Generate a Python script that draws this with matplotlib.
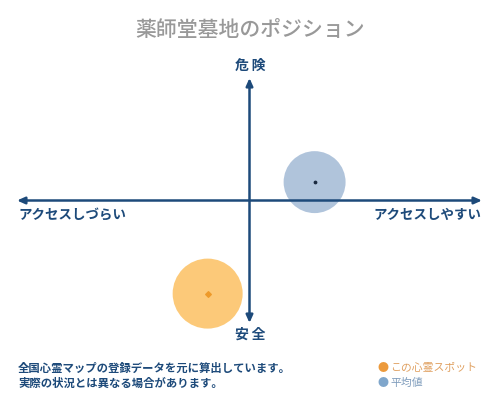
import matplotlib
matplotlib.use("Agg")
import matplotlib.pyplot as plt

plt.rcParams['font.family'] = ['Noto Sans CJK JP', 'DejaVu Sans']

title = "薬師堂墓地のポジション"
axis_top = "危険"
axis_bottom = "安全"
axis_left = "アクセスしづらい"
axis_right = "アクセスしやすい"
note_lines = ["全国心霊マップの登録データを元に算出しています。",
              "実際の状況とは異なる場合があります。"]
legend_labels = ["この心霊スポット", "平均値"]

# positions on the map (-1 .. 1), access on x, danger on y
spot_x, spot_y = -0.18, -0.76
avg_x, avg_y = 0.28, 0.15
spot_size = 2540
avg_size = 1990

navy = "#1d4a7a"
orange = "#fcc46a"
blue = "#a8bed8"

fig = plt.figure(figsize=(5, 4), dpi=100)
ax = fig.add_axes([17/500, 77/400, 465/500, 245/400])
ax.set_xlim(-1, 1)
ax.set_ylim(-1, 1)
ax.axis("off")

ax.scatter([avg_x], [avg_y], s=avg_size, color=blue, edgecolors="none", zorder=2, alpha=0.9, clip_on=False)
ax.scatter([avg_x], [avg_y], s=3, color="#1a2a40", zorder=4, clip_on=False)
ax.scatter([spot_x], [spot_y], s=spot_size, color=orange, edgecolors="none", zorder=2, alpha=0.9, clip_on=False)
ax.scatter([spot_x], [spot_y], s=8, color="#ee9a2a", marker="D", zorder=4, clip_on=False)

arrow = dict(arrowstyle="<|-|>,head_length=0.45,head_width=0.2", color=navy, lw=1.8, shrinkA=0, shrinkB=0)
ax.annotate("", xy=(1, 0), xytext=(-1, 0), arrowprops=arrow, zorder=3)
ax.annotate("", xy=(0, 1), xytext=(0, -1), arrowprops=arrow, zorder=3)

fig.text(0.5, 1 - 30/400, title, ha="center", va="center", fontsize=15, color="#999999", fontweight="medium")
fig.text(0.5, 1 - 66/400, "\u2009".join(axis_top), ha="center", va="center", fontsize=10, color=navy, fontweight="bold")
fig.text(0.5, 1 - 335/400, "\u2009".join(axis_bottom), ha="center", va="center", fontsize=10, color=navy, fontweight="bold")
fig.text(18/500, 1 - 215/400, axis_left, ha="left", va="center", fontsize=9.7, color=navy, fontweight="bold")
fig.text(481/500, 1 - 215/400, axis_right, ha="right", va="center", fontsize=9.7, color=navy, fontweight="bold")

fig.text(18/500, 1 - 368/400, note_lines[0], ha="left", va="center", fontsize=8.2, color=navy, fontweight="bold")
fig.text(18/500, 1 - 383/400, note_lines[1], ha="left", va="center", fontsize=8.2, color=navy, fontweight="bold")

fig.text(377/500, 1 - 368/400, "●", ha="left", va="center", fontsize=8, color="#ec9a3c")
fig.text(390/500, 1 - 368/400, legend_labels[0], ha="left", va="center", fontsize=7.8, color="#e0a060")
fig.text(377/500, 1 - 383/400, "●", ha="left", va="center", fontsize=8, color="#7fa6cb")
fig.text(390/500, 1 - 383/400, legend_labels[1], ha="left", va="center", fontsize=7.8, color="#7f9cbc")

fig.savefig("out.png", dpi=100)
